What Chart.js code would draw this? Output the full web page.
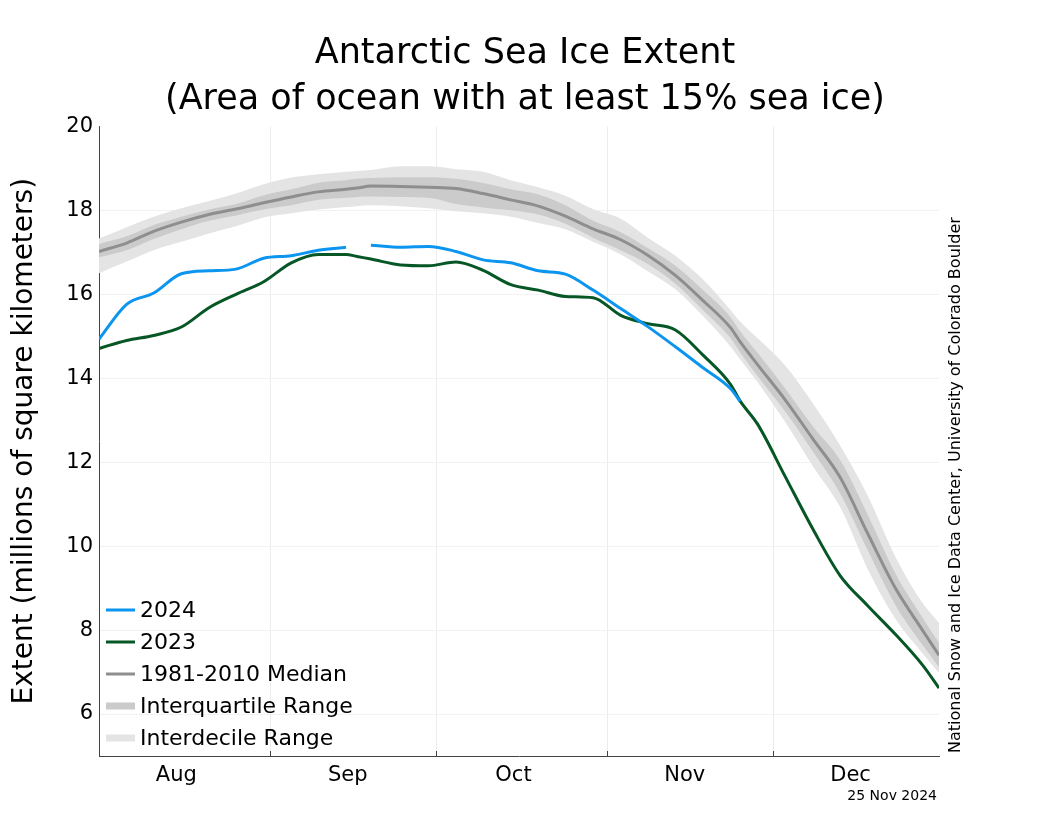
<!DOCTYPE html>
<html>
<head>
<meta charset="utf-8">
<script src="https://cdn.jsdelivr.net/npm/chart.js@4.4.1/dist/chart.umd.min.js"></script>
<style>
  html, body { margin: 0; padding: 0; background: #fff; }
  #wrap { width: 1050px; height: 840px; }
</style>
</head>
<body>
<div id="wrap"><canvas id="c" width="1050" height="840"></canvas></div>
<script>
// days since 1 Aug (Dec 31 = 152)
const days = [0, 5, 9.9, 14.9, 19.9, 24.8, 29.8, 34.8, 39.7, 44.7, 46.7, 49.2, 54.6, 59.6, 64.6, 69.5, 74.5, 79.5, 84.4, 89.4, 94.4, 99.3, 104.3, 109.3, 114.3, 116, 119.2, 124.2, 129.2, 134.1, 139.1, 144.1, 149, 152];

const ext2024 = [14.93, 15.76, 16.03, 16.49, 16.56, 16.6, 16.86, 16.92, 17.05, 17.12, null, 17.17, 17.12, 17.14, 17.02, 16.82, 16.75, 16.56, 16.48, 16.1, 15.66, 15.23, 14.75, 14.25, 13.75, 13.45, null, null, null, null, null, null, null, null];
const ext2023 = [14.71, 14.9, 15.02, 15.22, 15.68, 16.0, 16.3, 16.75, 16.95, 16.95, 16.9, 16.84, 16.7, 16.68, 16.77, 16.57, 16.23, 16.1, 15.95, 15.92, 15.5, 15.3, 15.15, 14.55, 13.85, 13.46, 12.9, 11.65, 10.4, 9.3, 8.58, 7.9, 7.17, 6.62];
const median = [17.02, 17.22, 17.5, 17.72, 17.9, 18.03, 18.18, 18.32, 18.44, 18.5, 18.53, 18.58, 18.57, 18.55, 18.52, 18.4, 18.25, 18.1, 17.86, 17.56, 17.3, 16.93, 16.45, 15.85, 15.2, 14.87, 14.32, 13.48, 12.55, 11.64, 10.3, 9.0, 8.0, 7.4];
const iqHigh = [17.2, 17.38, 17.65, 17.85, 18.02, 18.15, 18.36, 18.5, 18.66, 18.72, 18.75, 18.77, 18.79, 18.79, 18.75, 18.65, 18.5, 18.38, 18.12, 17.75, 17.48, 17.1, 16.68, 16.1, 15.45, 15.12, 14.6, 13.75, 12.85, 12.05, 10.75, 9.35, 8.3, 7.69];
const iqLow = [16.88, 17.05, 17.32, 17.55, 17.75, 17.88, 18.02, 18.12, 18.25, 18.3, 18.32, 18.33, 18.32, 18.3, 18.15, 18.07, 18.0, 17.9, 17.68, 17.35, 17.05, 16.72, 16.25, 15.62, 14.95, 14.62, 14.05, 13.2, 12.25, 11.26, 9.9, 8.6, 7.65, 7.12];
const idHigh = [17.33, 17.6, 17.85, 18.05, 18.22, 18.4, 18.62, 18.78, 18.86, 18.92, 18.94, 18.96, 19.05, 19.05, 18.98, 18.92, 18.72, 18.55, 18.35, 18.03, 17.8, 17.35, 16.92, 16.35, 15.62, 15.35, 14.95, 14.3, 13.4, 12.4, 11.2, 9.75, 8.65, 8.17];
const idLow = [16.5, 16.78, 17.05, 17.25, 17.45, 17.62, 17.83, 17.93, 18.02, 18.08, 18.1, 18.12, 18.1, 18.05, 17.98, 17.93, 17.85, 17.7, 17.55, 17.25, 16.95, 16.55, 16.12, 15.48, 14.75, 14.45, 13.9, 12.95, 11.9, 10.93, 9.45, 8.27, 7.45, 6.98];

const monthNames = ["Aug", "Sep", "Oct", "Nov", "Dec"];
const monthStarts = [0, 31, 61, 92, 122, 152];
const labelDays = [14, 45, 75, 106, 136];
const yTicks = [6, 8, 10, 12, 14, 16, 18, 20];

const FONT = "'DejaVu Sans', sans-serif";
const pts = (vals) => days.map((d, i) => ({ x: d, y: vals[i] }));

const legendItems = [
  ["2024", "#0b95ee", 3],
  ["2023", "#065626", 3],
  ["1981-2010 Median", "#8e8e8e", 3],
  ["Interquartile Range", "#cbcbcb", 7],
  ["Interdecile Range", "#e4e4e4", 7],
];

const extras = {
  id: "extras",
  afterDraw(chart) {
    const { ctx, chartArea: a, scales: { x } } = chart;
    ctx.save();
    // inward tick marks at month boundaries
    ctx.strokeStyle = "#444"; ctx.lineWidth = 1;
    monthStarts.slice(1, -1).forEach((m) => {
      const px = Math.round(x.getPixelForValue(m)) + 0.5;
      ctx.beginPath(); ctx.moveTo(px, a.bottom); ctx.lineTo(px, a.bottom - 5); ctx.stroke();
    });
    // legend
    ctx.font = "22px " + FONT;
    ctx.textBaseline = "middle";
    ctx.fillStyle = "#000";
    legendItems.forEach(([label, color, w], i) => {
      const y = a.bottom - 146 + i * 32;
      ctx.strokeStyle = color; ctx.lineWidth = w;
      ctx.beginPath(); ctx.moveTo(a.left + 7, y); ctx.lineTo(a.left + 36, y); ctx.stroke();
      ctx.fillText(label, a.left + 41, y + 1);
    });
    // credit text
    ctx.font = "16px " + FONT;
    ctx.translate(a.right + 17, a.bottom - 3);
    ctx.rotate(-Math.PI / 2);
    ctx.textAlign = "left";
    ctx.fillText("National Snow and Ice Data Center, University of Colorado Boulder", 0, 0);
    ctx.restore();
    ctx.save();
    ctx.font = "14px " + FONT;
    ctx.fillStyle = "#000";
    ctx.textAlign = "right";
    ctx.textBaseline = "middle";
    ctx.fillText("25 Nov 2024", a.right - 2, a.bottom + 40);
    ctx.restore();
  },
};

new Chart(document.getElementById("c"), {
  type: "line",
  data: {
    datasets: [
      { label: "2024", data: pts(ext2024), borderColor: "#0b95ee", borderWidth: 3, spanGaps: false },
      { label: "2023", data: pts(ext2023), borderColor: "#065626", borderWidth: 3 },
      { label: "1981-2010 Median", data: pts(median), borderColor: "#8e8e8e", borderWidth: 3 },
      { label: "iqHigh", data: pts(iqHigh), borderWidth: 0, borderColor: "rgba(0,0,0,0)" },
      { label: "iqLow", data: pts(iqLow), borderWidth: 0, borderColor: "rgba(0,0,0,0)", fill: "-1", backgroundColor: "#cbcbcb" },
      { label: "idHigh", data: pts(idHigh), borderWidth: 0, borderColor: "rgba(0,0,0,0)" },
      { label: "idLow", data: pts(idLow), borderWidth: 0, borderColor: "rgba(0,0,0,0)", fill: "-1", backgroundColor: "#e4e4e4" },
    ],
  },
  options: {
    responsive: false,
    animation: false,
    elements: { point: { radius: 0 }, line: { cubicInterpolationMode: "monotone", fill: false } },
    layout: { padding: 0 },
    plugins: {
      legend: { display: false },
      tooltip: { enabled: false },
      title: {
        display: true,
        text: ["Antarctic Sea Ice Extent", "(Area of ocean with at least 15% sea ice)"],
        color: "#000",
        font: { family: FONT, size: 35, weight: "normal", lineHeight: 1.32 },
        padding: { top: 31, bottom: 3 },
      },
      filler: { propagate: false },
    },
    scales: {
      x: {
        type: "linear", min: 0, max: 152,
        afterBuildTicks: (s) => {
          s.ticks = monthStarts.concat(labelDays).sort((p, q) => p - q).map((v) => ({ value: v }));
        },
        afterFit: (s) => { s.height = 84; },
        ticks: {
          autoSkip: false, maxRotation: 0, color: "#000", padding: 7,
          font: { family: FONT, size: 21 },
          callback: (v) => {
            const i = labelDays.indexOf(v);
            return i >= 0 ? monthNames[i] : "";
          },
        },
        grid: {
          tickLength: 0,
          color: (c) => (monthStarts.slice(1, -1).includes(c.tick && c.tick.value) ? "#ececec" : "rgba(0,0,0,0)"),
        },
        border: { color: "#444", width: 1 },
      },
      y: {
        min: 5, max: 20,
        afterBuildTicks: (s) => { s.ticks = yTicks.map((v) => ({ value: v })); },
        afterFit: (s) => { s.width = 99; },
        ticks: { color: "#000", padding: 6, font: { family: FONT, size: 21 } },
        grid: { tickLength: 0, color: (c) => (c.tick && c.tick.value < 20 ? "#f2f2f2" : "rgba(0,0,0,0)") },
        border: { color: "#444", width: 1 },
        title: {
          display: true, text: "Extent (millions of square kilometers)", color: "#000",
          font: { family: FONT, size: 28 }, padding: { top: 8, bottom: 0 },
        },
      },
      // empty right-hand axis that only reserves room for the credit text
      yRight: {
        position: "right", min: 0, max: 1,
        afterFit: (s) => { s.width = 111; },
        ticks: { display: false },
        grid: { display: false, drawOnChartArea: false },
        border: { display: false },
      },
    },
  },
  plugins: [extras],
});
</script>
</body>
</html>
